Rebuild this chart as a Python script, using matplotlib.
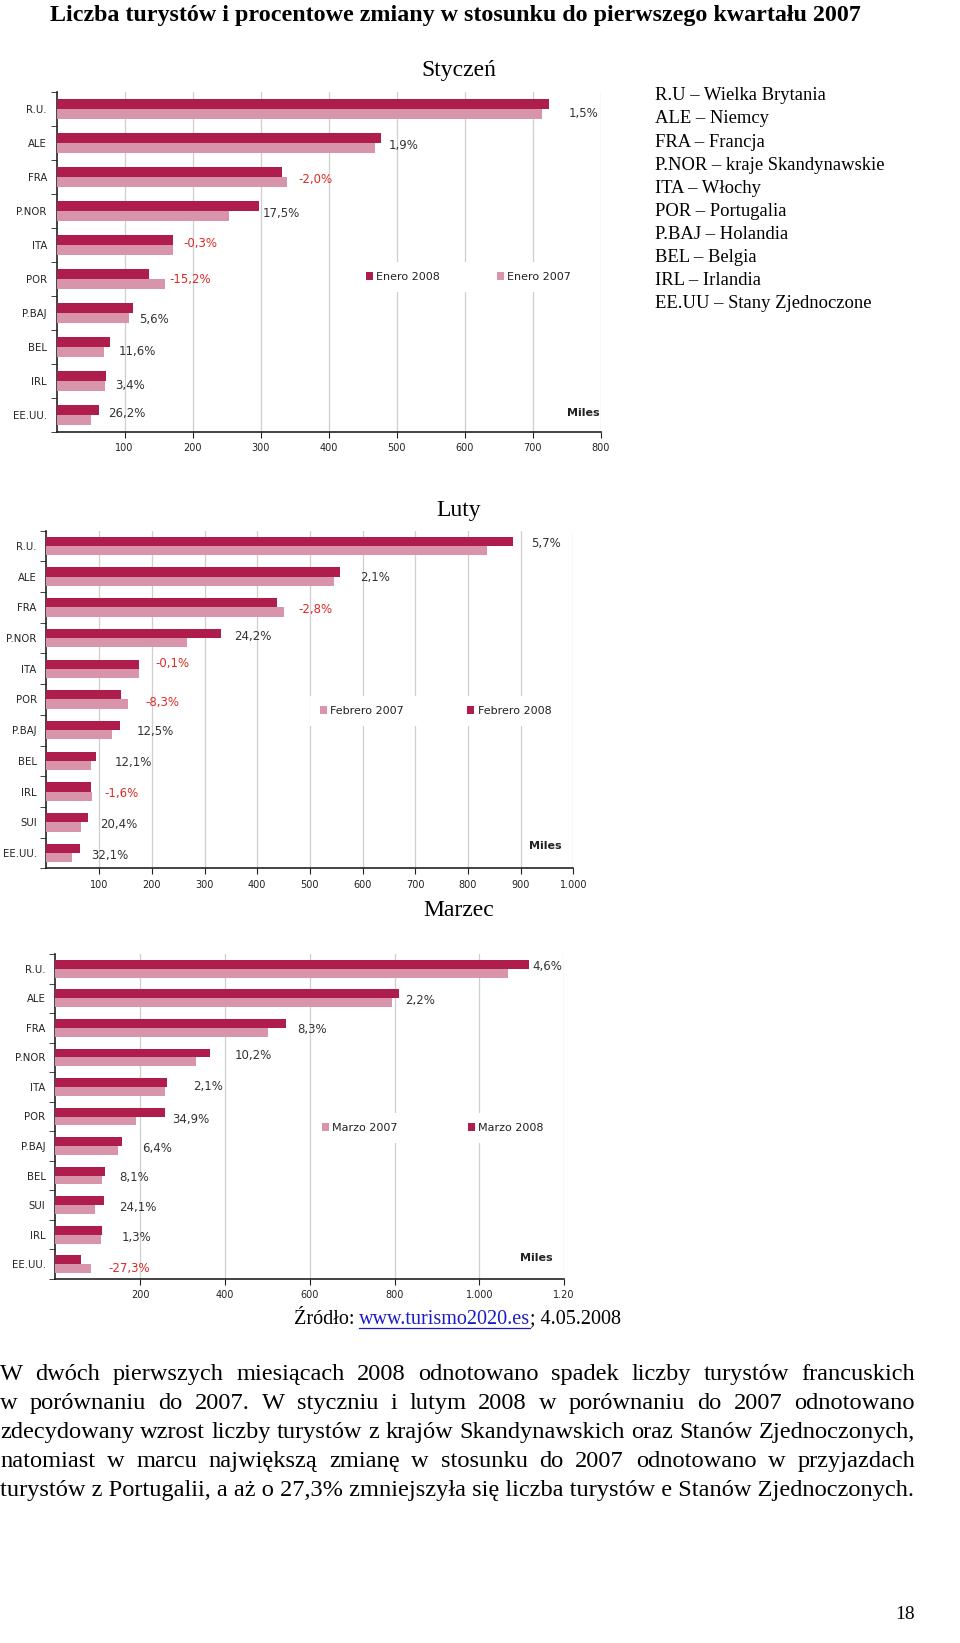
import numpy as np
import matplotlib.pyplot as plt

# --- data (thousands of tourists) ---
jan_cat = ['R.U.', 'ALE', 'FRA', 'P.NOR', 'ITA', 'POR', 'P.BAJ', 'BEL', 'IRL', 'EE.UU.']
jan_2008 = [724, 477, 332, 298, 171.5, 136, 112, 78, 73.4, 62.5]
jan_2007 = [714, 468, 339, 254, 172, 160, 106, 70, 71, 50]
jan_pct = ['1,5%', '1,9%', '-2,0%', '17,5%', '-0,3%', '-15,2%', '5,6%', '11,6%', '3,4%', '26,2%']

feb_cat = ['R.U.', 'ALE', 'FRA', 'P.NOR', 'ITA', 'POR', 'P.BAJ', 'BEL', 'IRL', 'SUI', 'EE.UU.']
feb_2008 = [885, 557, 438, 331, 175, 142, 139.5, 94.7, 84.6, 78.3, 64.7]
feb_2007 = [837, 546, 451, 267, 175, 155, 124, 84.5, 86, 65, 49]
feb_pct = ['5,7%', '2,1%', '-2,8%', '24,2%', '-0,1%', '-8,3%', '12,5%', '12,1%', '-1,6%', '20,4%', '32,1%']

mar_cat = ['R.U.', 'ALE', 'FRA', 'P.NOR', 'ITA', 'POR', 'P.BAJ', 'BEL', 'SUI', 'IRL', 'EE.UU.']
mar_2008 = [1117, 811, 544, 366, 263, 258, 157, 118, 115, 109.6, 61]
mar_2007 = [1068, 794, 502, 332, 258, 191, 147, 109.6, 93.7, 108.2, 84]
mar_pct = ['4,6%', '2,2%', '8,3%', '10,2%', '2,1%', '34,9%', '6,4%', '8,1%', '24,1%', '1,3%', '-27,3%']

# label nudges (px): gap after the longer bar, and vertical shift (down +)
jan_gap = [20, 8, 11, 4, 10, 4, 6, 9, 9, 9]
jan_dy = [4, 3, 2, 3, -1, 1, 7, 5, 4, -1]
feb_gap = [18, 20, 14, 13, 17, 17, 17, 18, 13, 12, 11]
feb_dy = [-2, 1, 2, -2, -5, 3, 1, 2, 2, 2, 2]
mar_gap = [3, 6, 11, 24, 26, 7, 20, 14, 15, 20, 17]
mar_dy = [-2, 2, 2, -2, 0, 3, 2, 2, 2, 3, 4]

keys = ['R.U – Wielka Brytania', 'ALE – Niemcy', 'FRA – Francja',
        'P.NOR – kraje Skandynawskie', 'ITA – Włochy', 'POR – Portugalia',
        'P.BAJ – Holandia', 'BEL – Belgia', 'IRL – Irlandia',
        'EE.UU – Stany Zjednoczone']

para = [
    "W dwóch pierwszych miesiącach 2008 odnotowano spadek liczby turystów francuskich",
    "w porównaniu do 2007. W styczniu i lutym 2008 w porównaniu do 2007 odnotowano",
    "zdecydowany wzrost liczby turystów z krajów Skandynawskich oraz Stanów Zjednoczonych,",
    "natomiast w marcu największą zmianę w stosunku do 2007 odnotowano w przyjazdach",
    "turystów z Portugalii, a aż o 27,3% zmniejszyła się liczba turystów e Stanów Zjednoczonych.",
]

C08 = '#AE1D4C'
C07 = '#D894AA'
RED = '#DD2A26'
SERIF = ['Liberation Serif', 'DejaVu Serif']
SANS = ['DejaVu Sans']

W, H = 960, 1643
fig = plt.figure(figsize=(W / 100, H / 100), dpi=100)
fig.patch.set_facecolor('white')

page = fig.add_axes([0, 0, 1, 1], zorder=0)
page.set_xlim(0, W)
page.set_ylim(H, 0)
page.axis('off')
r = fig.canvas.get_renderer()


def width(t):
    return t.get_window_extent(renderer=r).width


def ptext(x, yc, s, fs, **kw):
    # put the baseline so that the x-height band sits around yc (pixels)
    return page.text(x, yc + 0.233 * fs / 0.72, s, fontsize=fs, family=SERIF,
                     va='baseline', **kw)


def fit_size(s, target, **kw):
    t = page.text(0, 0, s, fontsize=14, family=SERIF, **kw)
    w = width(t)
    t.remove()
    return 14 * target / w


def px_axes(left, top, right, bottom):
    return fig.add_axes([left / W, 1 - bottom / H, (right - left) / W, (bottom - top) / H])


def chart(ax, cats, v08, v07, pct, gap, dy, xmax, ticks, tlabels,
          labels, first08, leg_x, leg_y, colsp, miles_x, miles_y):
    n = len(cats)
    y = np.arange(n)
    h = 0.3
    b08 = ax.barh(y - h / 2, v08, height=h, color=C08, zorder=3)
    b07 = ax.barh(y + h / 2, v07, height=h, color=C07, zorder=3)
    ax.set_xlim(0, xmax)
    ax.set_ylim(n - 0.5, -0.5)
    ax.set_yticks(y, cats)
    ax.set_yticks(np.arange(n + 1) - 0.5, minor=True)
    ax.tick_params(axis='y', which='major', length=0, pad=7, labelsize=7.3, labelcolor='#222222')
    ax.tick_params(axis='y', which='minor', length=4, color='#222222')
    ax.set_xticks(ticks, tlabels)
    ax.tick_params(axis='x', length=4, pad=4, labelsize=7, labelcolor='#222222', color='#222222')
    ax.xaxis.grid(True, color='#CFCFCF', lw=0.9)
    ax.set_axisbelow(True)
    for s in ['top', 'right']:
        ax.spines[s].set_visible(False)
    for s in ['left', 'bottom']:
        ax.spines[s].set_color('#222222')
        ax.spines[s].set_linewidth(1.2)
    for i in range(n):
        end = max(v08[i], v07[i])
        col = RED if pct[i].startswith('-') else '#333333'
        ax.annotate(pct[i], (end, y[i]), xytext=(gap[i] * 0.72, -dy[i] * 0.72),
                    textcoords='offset points', ha='left', va='center',
                    fontsize=8.5, color=col, family=SANS)
    handles = [b08, b07] if first08 else [b07, b08]
    leg = ax.legend(handles, labels, ncol=2, loc='center left',
                    bbox_to_anchor=(leg_x, leg_y), fontsize=8,
                    handlelength=0.62, handleheight=0.62, handletextpad=0.3,
                    columnspacing=colsp, borderpad=0.9, borderaxespad=0,
                    frameon=True, fancybox=False, framealpha=1,
                    edgecolor='none', facecolor='white')
    for t in leg.get_texts():
        t.set_color('#222222')
    ax.text(miles_x, miles_y, 'Miles', transform=ax.transAxes, ha='right',
            va='center', fontsize=8, fontweight='bold', color='#222222')


# chart 1: Styczen
ax1 = px_axes(56.5, 92, 600.5, 432)
chart(ax1, jan_cat, jan_2008, jan_2007, jan_pct, jan_gap, jan_dy, 800,
      np.arange(100, 801, 100), [str(v) for v in range(100, 801, 100)],
      ['Enero 2008', 'Enero 2007'], True, (366 - 10 - 56.5) / 544, 0.456, 5.1,
      0.999, 0.056)

# chart 2: Luty
ax2 = px_axes(46.4, 530.6, 573.4, 868.4)
chart(ax2, feb_cat, feb_2008, feb_2007, feb_pct, feb_gap, feb_dy, 1000,
      np.arange(100, 1001, 100), ['100', '200', '300', '400', '500', '600', '700', '800', '900', '1.000'],
      ['Febrero 2007', 'Febrero 2008'], False, (320 - 10 - 46.4) / 527, 0.466, 5.7,
      0.978, 0.066)

# chart 3: Marzec
ax3 = px_axes(55.3, 954, 564.1, 1279)
chart(ax3, mar_cat, mar_2008, mar_2007, mar_pct, mar_gap, mar_dy, 1200,
      np.arange(200, 1201, 200), ['200', '400', '600', '800', '1.000', '1.20'],
      ['Marzo 2007', 'Marzo 2008'], False, (322 - 10 - 55.3) / 508.8, 0.465, 6.3,
      0.978, 0.065)

# --- page text ---
title = 'Liczba turystów i procentowe zmiany w stosunku do pierwszego kwartału 2007'
tfs = fit_size(title, 812, fontweight='bold')
ptext(50, 15, title, tfs, fontweight='bold', ha='left')

for label, yy in [('Styczeń', 70), ('Luty', 510), ('Marzec', 910)]:
    ptext(459, yy, label, 17, ha='center')

for i, k in enumerate(keys):
    ptext(655, 96 + 23.1 * i, k, 13.4, ha='left')

# source line with underlined link
sfs = 14.5
t_a = ptext(0, 1319, 'Źródło:', sfs)
t_b = ptext(0, 1319, 'www.turismo2020.es', sfs, color='#1A1AC8')
t_c = ptext(0, 1319, '; 4.05.2008', sfs)
sp_t = page.text(0, 0, 'x x', fontsize=sfs, family=SERIF)
xx_t = page.text(0, 0, 'xx', fontsize=sfs, family=SERIF)
space = width(sp_t) - width(xx_t)
sp_t.remove()
xx_t.remove()
wa, wb, wc = width(t_a), width(t_b), width(t_c)
x0 = 457.5 - (wa + space + wb + wc) / 2
t_a.set_x(x0)
t_b.set_x(x0 + wa + space)
t_c.set_x(x0 + wa + space + wb)
page.plot([x0 + wa + space, x0 + wa + space + wb], [1328, 1328], color='#1A1AC8', lw=0.9)

# justified paragraph
pfs = fit_size(para[-1], 915)
for j, line in enumerate(para):
    yy = 1374 + 29 * j
    if j == len(para) - 1:
        ptext(0, yy, line, pfs)
        continue
    words = line.split()
    ts = [ptext(0, yy, w_, pfs) for w_ in words]
    ws = [width(t) for t in ts]
    g = (915 - sum(ws)) / (len(words) - 1)
    x = 0
    for t, w_ in zip(ts, ws):
        t.set_x(x)
        x += w_ + g

ptext(915, 1614, '18', 14, ha='right')

fig.savefig('out.png', dpi=100, facecolor='white')
